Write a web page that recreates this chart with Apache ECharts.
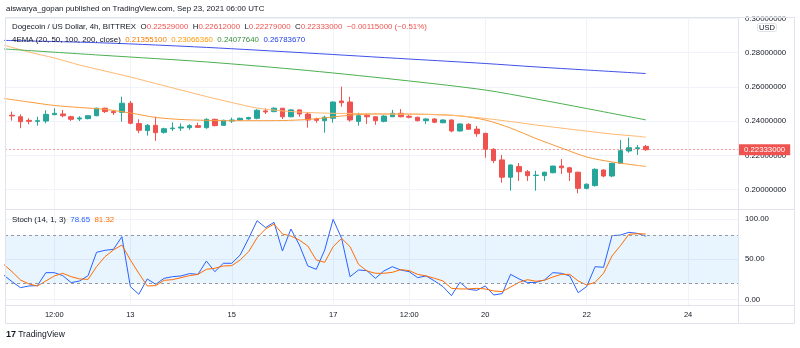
<!DOCTYPE html>
<html><head><meta charset="utf-8">
<script src="https://cdn.jsdelivr.net/npm/echarts@6/dist/echarts.min.js"></script>
<style>html,body{margin:0;padding:0;background:#fff}#c{width:800px;height:348px}</style>
</head><body><div id="c"></div>
<script>
// ---- data (4h candles, index 0 = Sep 11 12:00) ----
const candleIdx = [-5,-4,-3,-2,-1,0,1,2,3,4,5,6,7,8,9,10,11,12,13,14,15,16,17,18,19,20,21,22,23,24,25,26,27,28,29,30,31,32,33,34,35,36,37,38,39,40,41,42,43,44,45,46,47,48,49,50,51,52,53,54,55,56,57,58,59,60,61,62,63,64,65,66,67,68,69,70];
const opens  = [0.2435,0.2426,0.2405,0.2399,0.2401,0.2438,0.2442,0.2426,0.2413,0.2415,0.2432,0.2476,0.2456,0.2452,0.2505,0.2386,0.2345,0.2376,0.2335,0.2356,0.2360,0.2362,0.2374,0.2362,0.2411,0.2376,0.2401,0.2407,0.2413,0.2417,0.2460,0.2456,0.2476,0.2426,0.2466,0.2442,0.2413,0.2403,0.2417,0.2518,0.2512,0.2399,0.2435,0.2426,0.2399,0.2426,0.2446,0.2429,0.2423,0.2403,0.2413,0.2391,0.2407,0.2343,0.2382,0.2354,0.2329,0.2236,0.2174,0.2073,0.2135,0.2105,0.2083,0.2082,0.2099,0.2138,0.2128,0.2102,0.2008,0.2024,0.2115,0.2080,0.2154,0.2226,0.2239,0.22529];
const closes = [0.2431,0.2397,0.2399,0.2403,0.2440,0.2446,0.2432,0.2411,0.2419,0.2432,0.2476,0.2456,0.2450,0.2505,0.2388,0.2347,0.2376,0.2333,0.2356,0.2360,0.2366,0.2374,0.2364,0.2411,0.2374,0.2405,0.2407,0.2417,0.2421,0.2464,0.2454,0.2476,0.2426,0.2466,0.2442,0.2407,0.2405,0.2423,0.2512,0.2508,0.2407,0.2432,0.2426,0.2403,0.2430,0.2446,0.2426,0.2423,0.2403,0.2413,0.2394,0.2407,0.2343,0.2384,0.2353,0.2327,0.2236,0.2170,0.2073,0.2144,0.2105,0.2082,0.2085,0.2102,0.2138,0.2128,0.2102,0.2008,0.2032,0.2119,0.2080,0.2154,0.2228,0.2245,0.22448,0.22333];
const lows   = [0.2403,0.2359,0.2382,0.2374,0.2388,0.2436,0.2423,0.2401,0.2401,0.2411,0.2429,0.2448,0.2436,0.2397,0.2382,0.2330,0.2316,0.2285,0.2327,0.2343,0.2343,0.2350,0.2360,0.2356,0.2370,0.2372,0.2390,0.2403,0.2409,0.2411,0.2442,0.2452,0.2413,0.2423,0.2426,0.2362,0.2391,0.2333,0.2391,0.2485,0.2397,0.2374,0.2384,0.2379,0.2393,0.2426,0.2423,0.2417,0.2399,0.2384,0.2388,0.2388,0.2335,0.2339,0.2349,0.2309,0.2187,0.2155,0.2041,0.1994,0.2051,0.2051,0.1994,0.2051,0.2096,0.2092,0.2051,0.1979,0.2002,0.2018,0.2073,0.2073,0.2150,0.2216,0.2203,0.22279];
const highs  = [0.2456,0.2440,0.2417,0.2426,0.2464,0.2475,0.2466,0.2432,0.2429,0.2436,0.2479,0.2479,0.2462,0.2543,0.2518,0.2411,0.2384,0.2426,0.2362,0.2393,0.2387,0.2382,0.2391,0.2417,0.2415,0.2409,0.2421,0.2421,0.2426,0.2470,0.2475,0.2481,0.2477,0.2470,0.2468,0.2452,0.2421,0.2432,0.2515,0.2602,0.2543,0.2450,0.2446,0.2430,0.2435,0.2466,0.2471,0.2436,0.2426,0.2417,0.2417,0.2411,0.2411,0.2388,0.2388,0.2372,0.2333,0.2242,0.2203,0.2148,0.2156,0.2115,0.2111,0.2105,0.2140,0.2179,0.2134,0.2105,0.2037,0.2125,0.2119,0.2158,0.2290,0.2304,0.2261,0.22612];

const emaIdxA = [-6,-3,0,3,6,9,12,15,18,21,24,27,30,33,36,39,42,45,48,51,54,57,60,63,66,69,70];
const ema20 = [0.2533,0.2512,0.2492,0.2480,0.2469,0.2448,0.2422,0.2410,0.2405,0.2403,0.2403,0.2404,0.2410,0.2425,0.2439,0.2442,0.2442,0.2439,0.2431,0.2407,0.2360,0.2299,0.2244,0.2191,0.2162,0.2142,0.213551];
const ema50 = [0.2845,0.2804,0.2769,0.2728,0.2693,0.2658,0.2620,0.2582,0.2544,0.2509,0.2477,0.2460,0.2451,0.2446,0.2445,0.2442,0.2440,0.2438,0.2431,0.2416,0.2398,0.2378,0.2360,0.2342,0.2325,0.2312,0.2306636];
const emaIdxB = [-6,6,18,30,42,51,57,63,70];
const ema100 = [0.2822,0.2784,0.2746,0.2696,0.2635,0.2582,0.2530,0.2474,0.2407764];
const ema200 = [0.2872,0.2857,0.2831,0.2798,0.2763,0.2737,0.2717,0.2699,0.2678367];

const stochIdx = [-6,-5,-4,-3,-2,-1,0,1,2,3,4,5,6,7,8,9,10,11,12,13,14,15,16,17,18,19,20,21,22,23,24,25,26,27,28,29,30,31,32,33,34,35,36,37,38,39,40,41,42,43,44,45,46,47,48,49,50,51,52,53,54,55,56,57,58,59,60,61,62,63,64,65,66,67,68,69,70];
const stochK = [30.6,22.3,14.9,17.0,17.4,33.5,33.5,29.8,21.1,23.2,29.8,58.7,61.2,62.4,78.1,16.2,6.7,25.7,19.0,26.5,28.5,29.4,32.3,31.4,47.9,34.7,45.1,45.1,55.4,76.0,97.9,89.3,95.9,60.3,87.6,67.8,41.8,37.6,61.6,99.6,76.0,28.5,36.8,36.0,26.5,35.6,40.9,36.8,34.7,27.3,29.4,23.2,16.2,5.0,21.5,12.8,11.6,17.0,5.8,7.5,31.4,25.7,21.1,21.5,24.4,33.5,32.7,29.4,8.7,16.2,40.9,40.1,79.4,80.1,83.5,82.2,78.65];
const stochD = [43.8,34.7,24.4,19.5,17.0,23.2,29.4,32.7,28.5,25.7,25.2,40.9,53.3,61.6,67.8,49.2,32.7,17.0,17.4,24.0,24.8,27.3,29.8,31.4,37.6,38.9,41.8,42.2,49.2,59.5,76.8,87.6,93.8,81.4,78.9,73.9,66.5,49.2,46.3,65.7,76.0,65.7,43.8,35.6,32.7,32.7,33.9,37.2,36.0,31.4,29.4,26.5,23.2,14.1,13.3,13.3,14.1,13.3,10.8,10.0,15.7,21.5,24.8,22.8,24.0,28.1,31.4,31.4,23.2,18.2,21.5,32.7,54.2,67.0,81.0,81.8,81.32];

const tickPos = [0,9,21,33,42,51,63,75];
const tickLabels = ['12:00','13','15','17','12:00','20','22','24'];
const priceTicks = [0.20,0.22,0.24,0.26,0.28,0.30];
const stochTicks = [0,50,100];
const stochBands = [20,80];

// ---- styles ----
const FONT = '"Liberation Sans", Arial, sans-serif';
const UP = '#26a69a', DOWN = '#ef5350', TXT = '#131722', GRID = '#f0f3fa', FRAME = '#e0e3eb';

const candleData = candleIdx.map((x,i)=>[x, opens[i], closes[i], lows[i], highs[i]]);
const pair = (xs, ys) => xs.map((x,i)=>[x, ys[i]]);
const last = closes.length - 1;
const chg = closes[last] - closes[last-1];
const pct = chg / closes[last-1] * 100;
const sgn = v => (v < 0 ? '\u2212' : '');
const vcol = chg < 0 ? DOWN : UP;

const row1 = '{t|Dogecoin / US Dollar, 4h, BITTREX}  {k|O}{v|' + opens[last].toFixed(8) + '}  {k|H}{v|' + highs[last].toFixed(8) +
  '}  {k|L}{v|' + lows[last].toFixed(8) + '}  {k|C}{v|' + closes[last].toFixed(8) + '}  {v|' + sgn(chg) + Math.abs(chg).toFixed(8) +
  ' (' + sgn(pct) + Math.abs(pct).toFixed(2) + '%)}';
const row2 = '{t|4EMA (20, 50, 100, 200, close)}  {a|' + ema20[ema20.length-1].toFixed(8) + '}  {b|' + ema50[ema50.length-1].toFixed(8) +
  '}  {c|' + ema100[ema100.length-1].toFixed(8) + '}  {d|' + ema200[ema200.length-1].toFixed(8) + '}';
const row3 = '{t|Stoch (14, 1, 3)}  {k|' + stochK[stochK.length-1].toFixed(2) + '}  {d|' + stochD[stochD.length-1].toFixed(2) + '}';

const FS = 7.9;
const rs = (c) => ({color: c, fontSize: FS, fontFamily: FONT, fontWeight: 'normal'});
const baseTS = {fontSize: FS, fontFamily: FONT, fontWeight: 'normal', color: TXT};

const chart = echarts.init(document.getElementById('c'), null, {renderer: 'canvas'});
const xBase = {type:'value', min:(5-54.3)/8.45, max:(738-54.3)/8.45, axisLine:{show:false},
  axisTick:{show:false, customValues: tickPos}, splitLine:{show:true, lineStyle:{color: GRID, width:1}}};
chart.setOption({
  animation: false,
  backgroundColor: '#ffffff',
  textStyle: {fontFamily: FONT},
  title: [
    {text: 'aiswarya_gopan published on TradingView.com, Sep 23, 2021 06:00 UTC', left: 6, top: 5, padding: 0, textStyle: baseTS},
    {text: row1, left: 12, top: 23, padding: 0, textStyle: Object.assign({}, baseTS, {rich: {t: rs(TXT), k: rs(TXT), v: rs(vcol)}})},
    {text: row2, left: 12, top: 36, padding: 0, textStyle: Object.assign({}, baseTS, {rich: {t: rs(TXT), a: rs('#f57c00'), b: rs('#ff9800'), c: rs('#388e3c'), d: rs('#1e3ee6')}})},
    {text: row3, left: 12, top: 216, padding: 0, textStyle: Object.assign({}, baseTS, {rich: {t: rs(TXT), k: rs('#2962ff'), d: rs('#ff6d00')}})},
    {text: 'USD', left: 757, top: 23, padding: [1,2,0,2], borderColor: FRAME, borderWidth: 1, borderRadius: 2,
      textStyle: {fontSize: 7.5, fontWeight: 'normal', color: TXT, fontFamily: FONT}},
    {text: '{l|17} {t|TradingView}', left: 6, top: 330, padding: 0,
      textStyle: Object.assign({}, baseTS, {rich: {l: {fontSize: 9, fontWeight: 'bold', color: TXT, fontFamily: FONT}, t: {fontSize: 8.5, fontWeight: 'normal', color: TXT, fontFamily: FONT}}})}
  ],
  grid: [
    {left: 5, top: 17, width: 733, height: 192, outerBoundsMode: 'none'},
    {left: 5, top: 209, width: 733, height: 96, outerBoundsMode: 'none'}
  ],
  xAxis: [
    Object.assign({}, xBase, {gridIndex: 0, axisLabel: {show: false, customValues: tickPos}}),
    Object.assign({}, xBase, {gridIndex: 1, axisLabel: {show: true, customValues: tickPos, margin: 6, fontSize: 7.5, color: TXT,
      formatter: v => tickLabels[tickPos.indexOf(v)]}})
  ],
  yAxis: [
    {type:'value', gridIndex: 0, position: 'right', min: 0.18873, max: 0.30085, axisLine: {show: false},
      axisTick: {show: false, customValues: priceTicks}, splitLine: {show: true, lineStyle: {color: GRID}},
      axisLabel: {customValues: priceTicks, margin: 7, fontSize: 7.8, color: TXT, formatter: v => v.toFixed(8)}},
    {type:'value', gridIndex: 1, position: 'right', min: -6.6, max: 112.4, axisLine: {show: false},
      axisTick: {show: false, customValues: stochTicks}, splitLine: {show: true, lineStyle: {color: GRID}},
      axisLabel: {customValues: stochTicks, margin: 7, fontSize: 7.8, color: TXT, formatter: v => v.toFixed(2)}}
  ],
  series: [
    {type: 'candlestick', xAxisIndex: 0, yAxisIndex: 0, data: candleData, barWidth: 5,
      itemStyle: {color: UP, color0: DOWN, borderColor: UP, borderColor0: DOWN, borderWidth: 1},
      markLine: {silent: true, symbol: ['none','none'], animation: false, precision: 8,
        lineStyle: {color: 'rgba(239,83,80,0.55)', type: [2,2], width: 1},
        label: {show: true, position: 'end', distance: 1, formatter: p => Number(p.value).toFixed(8), backgroundColor: DOWN,
          color: '#ffffff', fontSize: 7.8, fontWeight: 'normal', fontFamily: FONT, padding: [2,5,1,5], opacity: 1},
        data: [{yAxis: closes[last]}]}},
    {type: 'line', xAxisIndex: 0, yAxisIndex: 0, data: pair(emaIdxA, ema20), showSymbol: false, smooth: 0.3, silent: true,
      lineStyle: {color: '#f89a3a', width: 1}},
    {type: 'line', xAxisIndex: 0, yAxisIndex: 0, data: pair(emaIdxA, ema50), showSymbol: false, smooth: 0.3, silent: true,
      lineStyle: {color: '#ffb870', width: 1}},
    {type: 'line', xAxisIndex: 0, yAxisIndex: 0, data: pair(emaIdxB, ema100), showSymbol: false, smooth: 0.3, silent: true,
      lineStyle: {color: '#4caf50', width: 1}},
    {type: 'line', xAxisIndex: 0, yAxisIndex: 0, data: pair(emaIdxB, ema200), showSymbol: false, smooth: 0.3, silent: true,
      lineStyle: {color: '#3f51e8', width: 1}},
    {type: 'line', xAxisIndex: 1, yAxisIndex: 1, data: pair(stochIdx, stochK), showSymbol: false, silent: true,
      lineStyle: {color: '#2962ff', width: 1},
      markArea: {silent: true, itemStyle: {color: 'rgba(33,150,243,0.1)'}, data: [[{yAxis: stochBands[0]}, {yAxis: stochBands[1]}]]},
      markLine: {silent: true, symbol: ['none','none'], label: {show: false},
        lineStyle: {color: '#9598a1', type: [3,3], width: 1}, data: stochBands.map(b => ({yAxis: b}))}},
    {type: 'line', xAxisIndex: 1, yAxisIndex: 1, data: pair(stochIdx, stochD), showSymbol: false, silent: true,
      lineStyle: {color: '#ff6d00', width: 1}}
  ],
  graphic: [
    {type: 'rect', z: 100, silent: true, shape: {x: 739, y: 0, width: 61, height: 16.5}, style: {fill: '#fff'}},
    {type: 'rect', z: 101, silent: true, shape: {x: 5.5, y: 17.5, width: 789, height: 306}, style: {fill: null, stroke: FRAME, lineWidth: 1}},
    {type: 'line', z: 101, silent: true, shape: {x1: 5, y1: 209.5, x2: 795, y2: 209.5}, style: {stroke: FRAME, lineWidth: 1}},
    {type: 'line', z: 101, silent: true, shape: {x1: 5, y1: 305.5, x2: 795, y2: 305.5}, style: {stroke: FRAME, lineWidth: 1}},
    {type: 'line', z: 101, silent: true, shape: {x1: 738.5, y1: 17, x2: 738.5, y2: 324}, style: {stroke: FRAME, lineWidth: 1}}
  ]
});
</script></body></html>
